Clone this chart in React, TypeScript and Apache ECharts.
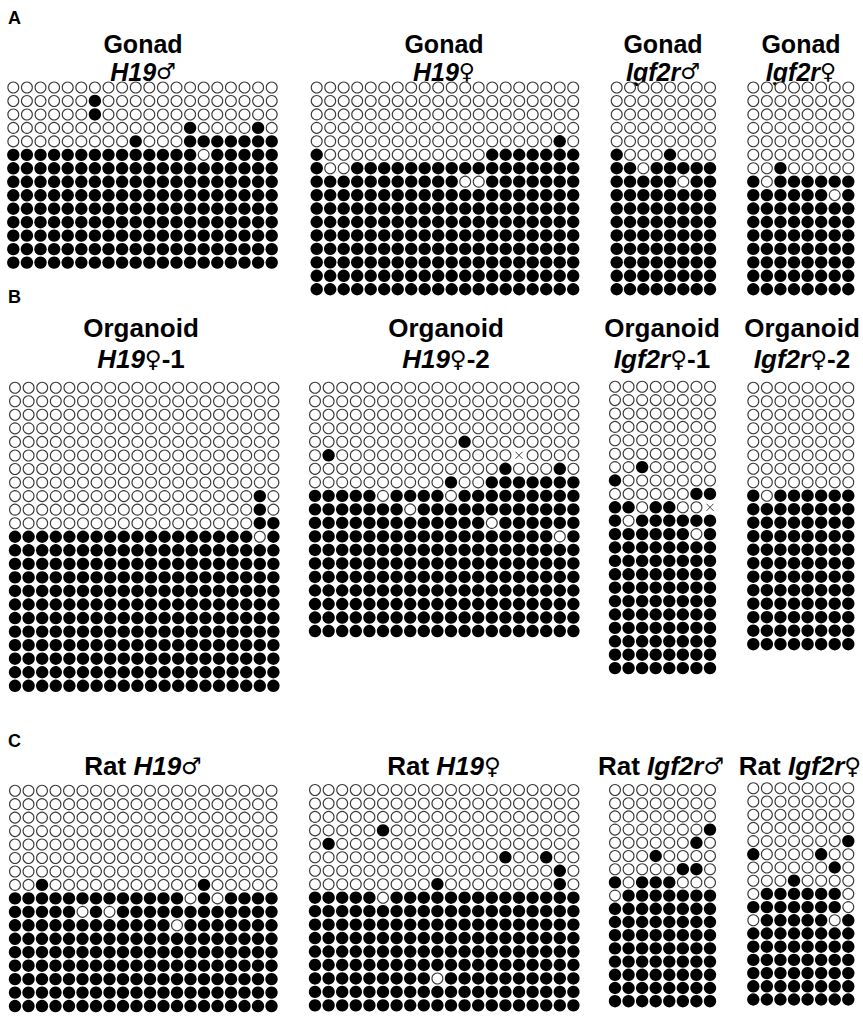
import React, { useEffect, useRef } from "react";
import * as echarts from "echarts";

// Each string = one clone (row); each character = one CpG site.
// "1" methylated (filled), "0" unmethylated (open), "x" not determined
const gonadH19Male: string[] = [
  "00000000000000000000",
  "00000010000000000000",
  "00000010000000000000",
  "00000000000001000010",
  "00000000010001111111",
  "11111111111111011111",
  "11111111111111111111",
  "11111111111111111111",
  "11111111111111111111",
  "11111111111111111111",
  "11111111111111111111",
  "11111111111111111111",
  "11111111111111111111",
  "11111111111111111111",
];

const gonadH19Female: string[] = [
  "00000000000000000000",
  "00000000000000000000",
  "00000000000000000000",
  "00000000000000000000",
  "00000000000000000010",
  "10000000000001111111",
  "10011111111111111111",
  "11111111111001111111",
  "11111111111111111111",
  "11111111111111111111",
  "11111111111111111111",
  "11111111111111111111",
  "11111111111111111111",
  "11111111111111111111",
  "11111111111111111111",
  "11111111111111111111",
];

const gonadIgf2rMale: string[] = [
  "00000000",
  "00000000",
  "00000000",
  "00000000",
  "00000000",
  "10001000",
  "11011111",
  "11111011",
  "11111111",
  "11111111",
  "11111111",
  "11111111",
  "11111111",
  "11111111",
  "11111111",
  "11111111",
];

const gonadIgf2rFemale: string[] = [
  "00000000",
  "00000000",
  "00000000",
  "00000000",
  "00000000",
  "00000000",
  "00100000",
  "10111111",
  "11111101",
  "11111111",
  "11111111",
  "11111111",
  "11111111",
  "11111111",
  "11111111",
  "11111111",
];

const organoidH19F1: string[] = [
  "00000000000000000000",
  "00000000000000000000",
  "00000000000000000000",
  "00000000000000000000",
  "00000000000000000000",
  "00000000000000000000",
  "00000000000000000000",
  "00000000000000000000",
  "00000000000000000010",
  "00000000000000000010",
  "00000000000000000011",
  "11111111111111111101",
  "11111111111111111111",
  "11111111111111111111",
  "11111111111111111111",
  "11111111111111111111",
  "11111111111111111111",
  "11111111111111111111",
  "11111111111111111111",
  "11111111111111111111",
  "11111111111111111111",
  "11111111111111111111",
  "11111111111111111111",
];

const organoidH19F2: string[] = [
  "00000000000000000000",
  "00000000000000000000",
  "00000000000000000000",
  "00000000000000000000",
  "00000000000100000000",
  "010000000000000x0000",
  "00000000000000100010",
  "00000000001001111111",
  "11111011110111111111",
  "11111110111111111111",
  "11111111111110111111",
  "11111111111111111101",
  "11111111111111111111",
  "11111111111111111111",
  "11111111111111111111",
  "11111111111111111111",
  "11111111111111111111",
  "11111111111111111111",
  "11111111111111111111",
];

const organoidIgf2rF1: string[] = [
  "00000000",
  "00000000",
  "00000000",
  "00000000",
  "00000000",
  "00000000",
  "00100000",
  "10000000",
  "00000011",
  "1101100x",
  "10111111",
  "11111101",
  "11111111",
  "11111111",
  "11111111",
  "11111111",
  "11111111",
  "11111111",
  "11111111",
  "11111111",
  "11111111",
  "11111111",
];

const organoidIgf2rF2: string[] = [
  "00000000",
  "00000000",
  "00000000",
  "00000000",
  "00000000",
  "00000000",
  "00000000",
  "00000000",
  "10111111",
  "11111111",
  "11111111",
  "11111111",
  "11111111",
  "11111111",
  "11111111",
  "11111111",
  "11111111",
  "11111111",
  "11111111",
  "11111111",
];

const ratH19Male: string[] = [
  "00000000000000000000",
  "00000000000000000000",
  "00000000000000000000",
  "00000000000000000000",
  "00000000000000000000",
  "00000000000000000000",
  "00000000000000000000",
  "00100000000000100000",
  "11111111111110101111",
  "11111010111111111111",
  "11111111111101111111",
  "11111111111111111111",
  "11111111111111111111",
  "11111111111111111111",
  "11111111111111111111",
  "11111111111111111111",
  "11111111111111111111",
];

const ratH19Female: string[] = [
  "00000000000000000000",
  "00000000000000000000",
  "00000000000000000000",
  "00000100000000000000",
  "01000000000000000000",
  "00000000000000100100",
  "00000000000000000010",
  "00000000010000000010",
  "11111011111111111111",
  "11111111111111111111",
  "11111111111111111111",
  "11111111111111111111",
  "11111111111111111111",
  "11111111111111111111",
  "11111111101111111111",
  "11111111111111111111",
  "11111111111111111111",
];

const ratIgf2rMale: string[] = [
  "00000000",
  "00000000",
  "00000000",
  "00000001",
  "00000010",
  "00010000",
  "00000110",
  "10111000",
  "01111111",
  "11111111",
  "11111111",
  "11111111",
  "11111111",
  "11111111",
  "11111111",
  "11111111",
  "11111111",
];

const ratIgf2rFemale: string[] = [
  "00000000",
  "00000000",
  "00000000",
  "00000000",
  "00000001",
  "10000100",
  "00000010",
  "00010000",
  "01111110",
  "11111110",
  "01111101",
  "11111111",
  "11111111",
  "11111111",
  "11111111",
  "11111111",
  "11111111",
];

const FONT = "'Liberation Sans', Arial, 'DejaVu Sans', sans-serif";

type Panel = {
  rows: string[];
  x0: number;
  y0: number;
  dx: number;
  dy: number;
  cx: number;
  fs: number;
  l1?: string;
  l2: string;
  y1?: number;
  y2: number;
};

const panels: Panel[] = [
  { rows: gonadH19Male, x0: 13.3, y0: 87.5, dx: 13.6, dy: 13.47, cx: 143, fs: 25, l1: "Gonad", l2: "{i|H19}{s|♂}", y1: 43.5, y2: 71.5 },
  { rows: gonadH19Female, x0: 316.7, y0: 87.5, dx: 13.5, dy: 13.45, cx: 444, fs: 25, l1: "Gonad", l2: "{i|H19}{s|♀}", y1: 43.5, y2: 71.5 },
  { rows: gonadIgf2rMale, x0: 616.7, y0: 87.5, dx: 13.33, dy: 13.45, cx: 663, fs: 25, l1: "Gonad", l2: "{i|Igf2r}{s|♂}", y1: 43.5, y2: 71.5 },
  { rows: gonadIgf2rFemale, x0: 753.3, y0: 87.5, dx: 13.57, dy: 13.45, cx: 801, fs: 25, l1: "Gonad", l2: "{i|Igf2r}{s|♀}", y1: 43.5, y2: 71.5 },
  { rows: organoidH19F1, x0: 15, y0: 387.7, dx: 13.6, dy: 13.55, cx: 141, fs: 26, l1: "Organoid", l2: "{i|H19}{s|♀}{n|-1}", y1: 328, y2: 359 },
  { rows: organoidH19F2, x0: 315, y0: 387.7, dx: 13.6, dy: 13.52, cx: 446, fs: 26, l1: "Organoid", l2: "{i|H19}{s|♀}{n|-2}", y1: 328, y2: 359 },
  { rows: organoidIgf2rF1, x0: 615, y0: 386.7, dx: 13.57, dy: 13.4, cx: 662, fs: 26, l1: "Organoid", l2: "{i|Igf2r}{s|♀}{n|-1}", y1: 328, y2: 359 },
  { rows: organoidIgf2rF2, x0: 753.3, y0: 387.7, dx: 13.57, dy: 13.5, cx: 802, fs: 26, l1: "Organoid", l2: "{i|Igf2r}{s|♀}{n|-2}", y1: 328, y2: 359 },
  { rows: ratH19Male, x0: 15, y0: 790.7, dx: 13.5, dy: 13.46, cx: 143, fs: 26, l2: "{n|Rat }{i|H19}{s|♂}", y2: 766 },
  { rows: ratH19Female, x0: 315, y0: 790, dx: 13.6, dy: 13.46, cx: 444, fs: 26, l2: "{n|Rat }{i|H19}{s|♀}", y2: 766 },
  { rows: ratIgf2rMale, x0: 615, y0: 790, dx: 13.57, dy: 13.2, cx: 661, fs: 26, l2: "{n|Rat }{i|Igf2r}{s|♂}", y2: 766 },
  { rows: ratIgf2rFemale, x0: 753.3, y0: 788.3, dx: 13.57, dy: 13.2, cx: 800, fs: 26, l2: "{n|Rat }{i|Igf2r}{s|♀}", y2: 766 },
];

const sectionLabels = ["A", "B", "C"];
const sectionY = [18, 297, 741];

export default function App() {
  const ref = useRef<HTMLDivElement>(null);
  useEffect(() => {
    document.body.style.margin = "0";
    const chart = echarts.init(ref.current!, null, { renderer: "svg" });
    const grid: any[] = [];
    const xAxis: any[] = [];
    const yAxis: any[] = [];
    const series: any[] = [];
    const graphic: any[] = [];
    panels.forEach((p, k) => {
      const nc = p.rows[0].length;
      const nr = p.rows.length;
      const rich = {
        n: { fontFamily: FONT, fontWeight: "bold", fontSize: p.fs, fill: "#000" },
        i: { fontFamily: FONT, fontWeight: "bold", fontStyle: "italic", fontSize: p.fs, fill: "#000" },
        s: { fontFamily: "'DejaVu Sans', sans-serif", fontWeight: "bold", fontSize: p.fs - 3, fill: "#000" },
      };
      grid.push({ left: p.x0 - p.dx / 2, top: p.y0 - p.dy / 2, width: nc * p.dx, height: nr * p.dy, containLabel: false });
      xAxis.push({ gridIndex: k, type: "value", min: -0.5, max: nc - 0.5, show: false });
      yAxis.push({ gridIndex: k, type: "value", min: -0.5, max: nr - 0.5, inverse: true, show: false });
      const meth: number[][] = [];
      const unmeth: number[][] = [];
      const nd: number[][] = [];
      p.rows.forEach((row, r) =>
        row.split("").forEach((ch, c) => {
          if (ch === "1") meth.push([c, r]);
          else if (ch === "0") unmeth.push([c, r]);
          else nd.push([c, r]);
        })
      );
      series.push({
        type: "scatter", xAxisIndex: k, yAxisIndex: k, data: meth, symbol: "circle", symbolSize: 12.4,
        itemStyle: { color: "#000", opacity: 1 }, silent: true,
      });
      series.push({
        type: "scatter", xAxisIndex: k, yAxisIndex: k, data: unmeth, symbol: "circle", symbolSize: 10.9,
        itemStyle: { color: "#fff", borderColor: "#3a3a3a", borderWidth: 1.1, opacity: 1 }, silent: true,
      });
      series.push({
        type: "scatter", xAxisIndex: k, yAxisIndex: k, data: nd, symbol: "path://M0,0L10,10M10,0L0,10", symbolSize: 7,
        itemStyle: { color: "none", borderColor: "#444", borderWidth: 1, opacity: 1 }, silent: true,
      });
      if (p.l1) {
        graphic.push({
          type: "text", x: p.cx, y: p.y1,
          style: { text: p.l1, fontFamily: FONT, fontWeight: "bold", fontSize: p.fs, fill: "#000", align: "center", verticalAlign: "middle" },
        });
      }
      graphic.push({
        type: "text", x: p.cx, y: p.y2,
        style: { text: p.l2, rich, fontFamily: FONT, fontWeight: "bold", fontSize: p.fs, fill: "#000", align: "center", verticalAlign: "middle" },
      });
    });
    sectionLabels.forEach((s, i) => {
      graphic.push({
        type: "text", x: 8, y: sectionY[i],
        style: { text: s, fontFamily: FONT, fontWeight: "bold", fontSize: 18, fill: "#000", align: "left", verticalAlign: "middle" },
      });
    });
    chart.setOption({
      animation: false,
      backgroundColor: "#fff",
      grid, xAxis, yAxis, series, graphic,
    });
    return () => chart.dispose();
  }, []);
  return <div ref={ref} style={{ width: 863, height: 1018 }} />;
}
